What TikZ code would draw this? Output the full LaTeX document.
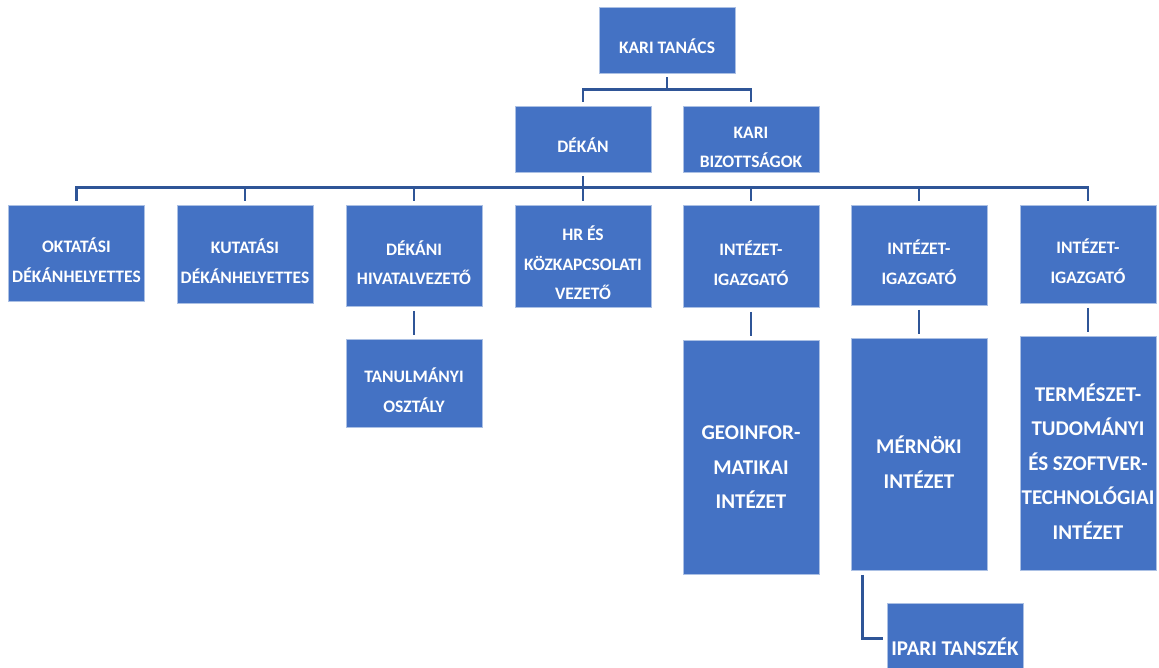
\documentclass[tikz,border=0pt]{standalone}
\usepackage{fontspec}
\setmainfont{Carlito}
\usetikzlibrary{positioning}

\definecolor{boxblue}{HTML}{4472C4}
\definecolor{linkblue}{HTML}{2F5597}

\tikzset{
  unit/.style={fill=boxblue, draw=boxblue!45, line width=0.8pt, text=white,
    inner sep=0pt, minimum width=136, text width=136, align=flush center},
  smalltext/.style={font=\bfseries\fontsize{17.5}{29.5}\selectfont,
    execute at begin node={\rule{0pt}{28pt}}},
  bigtext/.style={font=\bfseries\fontsize{21}{34.5}\selectfont,
    execute at begin node={\rule{0pt}{33.5pt}}},
  link/.style={draw=linkblue, line width=2.6pt, shorten <=4, shorten >=4}
}

\begin{document}
\begin{tikzpicture}[x=1pt,y=-1pt]

      \useasboundingbox (0,0) rectangle (1159,668);
      \clip (0,0) rectangle (1159,668);

      % top levels
      \node[unit,smalltext,minimum height=66] (tanacs) at (667,40)  {KARI TANÁCS};
      \node[unit,smalltext,minimum height=66] (dekan)  at (583,139) {DÉKÁN};
      \node[unit,smalltext,minimum height=66] (bizott) at (751,139) {KARI\\BIZOTTSÁGOK};

      % leaders under the dean
      \begin{scope}[every node/.append style={anchor=north}]
        \node[unit,smalltext,minimum height=96]  (oktat)  at (76.5,205) {OKTATÁSI\\DÉKÁNHELYETTES};
        \node[unit,smalltext,minimum height=98]  (kutat)  at (245,205)  {KUTATÁSI\\DÉKÁNHELYETTES};
        \node[unit,smalltext,minimum height=101] (hivatal) at (414,205) {DÉKÁNI\\HIVATALVEZETŐ};
        \node[unit,smalltext,minimum height=102] (hr)     at (583,205)  {HR ÉS\\KÖZKAPCSOLATI\\VEZETŐ};
        \node[unit,smalltext,minimum height=102] (igazg1) at (751,205)  {INTÉZET-\\IGAZGATÓ};
        \node[unit,smalltext,minimum height=100] (igazg2) at (919,205)  {INTÉZET-\\IGAZGATÓ};
        \node[unit,smalltext,minimum height=98]  (igazg3) at (1088,205) {INTÉZET-\\IGAZGATÓ};

        \node[unit,smalltext,minimum height=88]  (tanulm) at (414,339)  {TANULMÁNYI\\OSZTÁLY};
        \node[unit,bigtext,minimum height=234]   (geo)    at (751,340)  {GEOINFOR-\\MATIKAI\\INTÉZET};
        \node[unit,bigtext,minimum height=232]   (mern)   at (919,338)  {MÉRNÖKI\\INTÉZET};
        \node[unit,bigtext,minimum height=234]   (term)   at (1088,336) {TERMÉSZET-\\TUDOMÁNYI\\ÉS SZOFTVER-\\TECHNOLÓGIAI\\INTÉZET};
        \node[unit,bigtext,minimum height=70]    (ipari)  at (955,603)  {IPARI TANSZÉK};
      \end{scope}

      % connectors
      \draw[link] (tanacs.south) -- ++(0,16) -| (dekan.north);
      \draw[link] (tanacs.south) -- ++(0,16) -| (bizott.north);

      \draw[link] (dekan.south) -- ++(0,15) -| (oktat.north);
      \draw[link] (dekan.south) -- ++(0,15) -| (kutat.north);
      \draw[link] (dekan.south) -- ++(0,15) -| (hivatal.north);
      \draw[link] (dekan.south) -- (hr.north);
      \draw[link] (dekan.south) -- ++(0,15) -| (igazg1.north);
      \draw[link] (dekan.south) -- ++(0,15) -| (igazg2.north);
      \draw[link] (dekan.south) -- ++(0,15) -| (igazg3.north);

      \draw[link] (hivatal) -- (tanulm);
      \draw[link] (igazg1) -- (geo);
      \draw[link] (igazg2) -- (mern);
      \draw[link] (igazg3) -- (term);
      \draw[link] ([xshift=12]mern.south west) |- (ipari.west);

    \end{tikzpicture}
\end{document}
